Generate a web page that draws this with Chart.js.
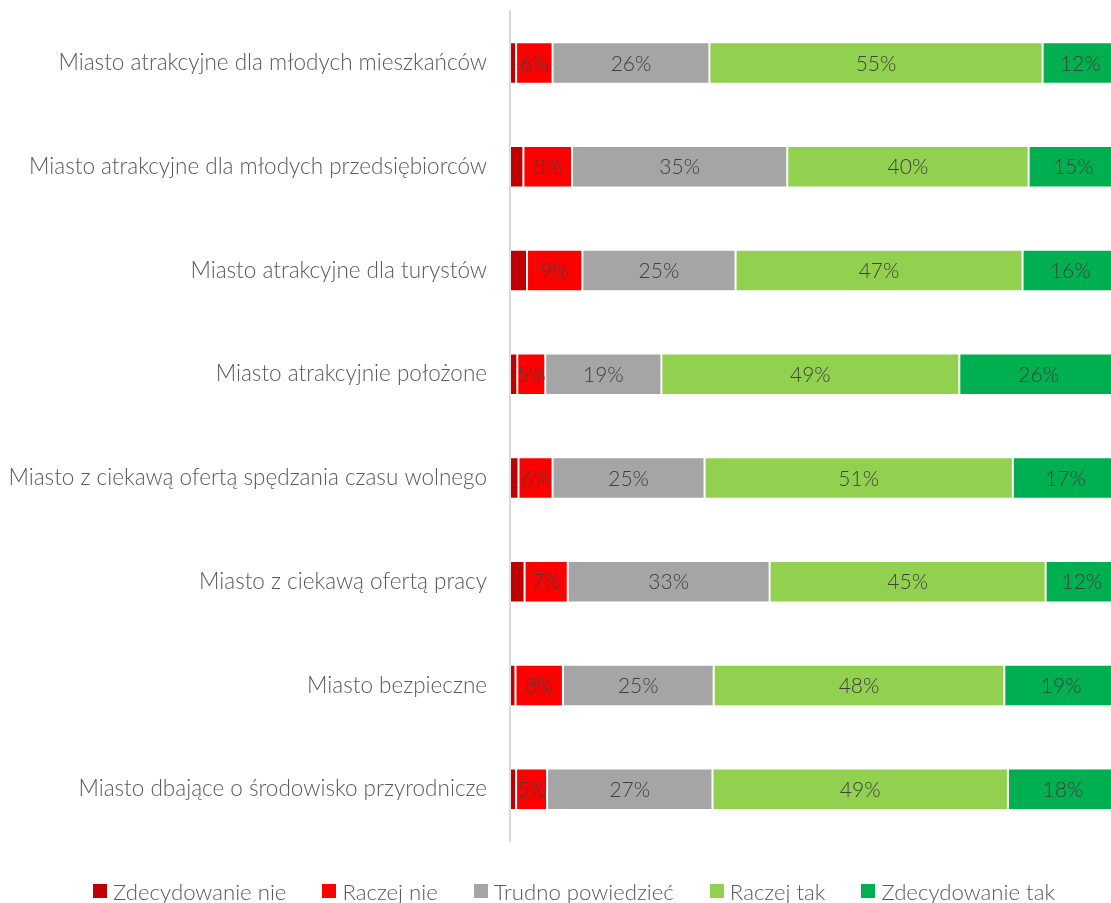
<!DOCTYPE html>
<html lang="pl">
<head>
  <meta charset="UTF-8" />
  <title>Ocena miasta</title>
  <script src="https://cdn.jsdelivr.net/npm/chart.js"></script>
  <style>
    html, body { margin:0; padding:0; background:#fff; overflow:hidden; }
    .wrap { position:relative; width:1160px; height:903px; }
    #legend { position:absolute; left:0; top:877px; width:1148px; height:28px;
              display:flex; justify-content:center; align-items:center; gap:36px;
              font-family: Lato, "Open Sans", sans-serif; font-weight:300; font-size:22.2px; color:#595959; }
    #legend .item { display:flex; align-items:center; white-space:nowrap; }
    #legend .box { width:14px; height:14px; margin-right:6px; }
  </style>
</head>
<body>
  <div class="wrap">
    <canvas id="chart"></canvas>
    <div id="legend"></div>
  </div>
  <script>
    // categories (top to bottom)
    const categories = [
      'Miasto atrakcyjne dla młodych mieszkańców',
      'Miasto atrakcyjne dla młodych przedsiębiorców',
      'Miasto atrakcyjne dla turystów',
      'Miasto atrakcyjnie położone',
      'Miasto z ciekawą ofertą spędzania czasu wolnego',
      'Miasto z ciekawą ofertą pracy',
      'Miasto bezpieczne',
      'Miasto dbające o środowisko przyrodnicze'
    ];
    const seriesNames = ['Zdecydowanie nie', 'Raczej nie', 'Trudno powiedzieć', 'Raczej tak', 'Zdecydowanie tak'];
    const seriesColors = ['#C00000', '#FF0000', '#A5A5A5', '#92D050', '#00B050'];

    // shares in %
    const zdecydowanieNie = [1.0, 2.2, 2.8, 1.2, 1.4, 2.4, 0.9, 1.0];
    const raczejNie       = [6.0, 8.0, 9.1, 4.6, 5.6, 7.1, 7.8, 5.1];
    const trudno          = [25.8, 35.4, 25.2, 19.1, 25.0, 33.2, 24.8, 27.2];
    const raczejTak       = [54.8, 39.7, 47.2, 49.0, 50.7, 45.4, 47.8, 48.6];
    const zdecydowanieTak = [12.4, 14.7, 15.7, 26.1, 17.3, 11.9, 18.7, 18.1];
    const showLabels      = [false, true, true, true, true];

    const seriesData = [zdecydowanieNie, raczejNie, trudno, raczejTak, zdecydowanieTak];

    const FONT = 'Lato, "Open Sans", sans-serif';

    // draws the % text in the middle of each segment
    const segmentLabels = {
      id: 'segmentLabels',
      afterDatasetsDraw(chart) {
        const ctx = chart.ctx;
        ctx.save();
        ctx.font = '300 21px ' + FONT;
        ctx.fillStyle = '#404040';
        ctx.textAlign = 'center';
        ctx.textBaseline = 'middle';
        chart.data.datasets.forEach((ds, i) => {
          if (!showLabels[i]) return;
          chart.getDatasetMeta(i).data.forEach((bar, j) => {
            const cx = (bar.x + bar.base) / 2;
            ctx.fillText(Math.round(ds.data[j]) + '%', cx, bar.y + 1);
          });
        });
        ctx.restore();
      }
    };

    const chart = new Chart(document.getElementById('chart'), {
      type: 'bar',
      data: {
        labels: categories,
        datasets: seriesNames.map((name, i) => ({
          label: name,
          data: seriesData[i],
          backgroundColor: seriesColors[i],
          borderColor: 'rgba(255,255,255,0.35)',
          borderWidth: 1,
          borderSkipped: false,
          barPercentage: 0.5,
          categoryPercentage: 0.8
        }))
      },
      options: {
        indexAxis: 'y',
        responsive: true,
        maintainAspectRatio: false,
        animation: false,
        layout: { padding: { top: 11, right: 42, bottom: 62, left: 0 } },
        scales: {
          x: { stacked: true, min: 0, max: 100, display: false },
          y: {
            stacked: true,
            grid: { display: false, drawTicks: false },
            border: { display: true, color: '#D9D9D9', width: 2 },
            ticks: { color: '#595959', font: { family: FONT, size: 22.5, weight: 300 }, padding: 23 },
            afterFit(scale) {
              scale.width = 510;
              scale.paddingTop = 0;
              scale.paddingBottom = 0;
            }
          }
        },
        plugins: {
          legend: { display: false },
          tooltip: { enabled: false }
        }
      },
      plugins: [segmentLabels]
    });

    // legend in html, built from the chart's datasets
    const legendEl = document.getElementById('legend');
    chart.data.datasets.forEach(ds => {
      const item = document.createElement('div');
      item.className = 'item';
      item.innerHTML = '<span class="box" style="background:' + ds.backgroundColor + '"></span>' + ds.label;
      legendEl.appendChild(item);
    });
  </script>
</body>
</html>
